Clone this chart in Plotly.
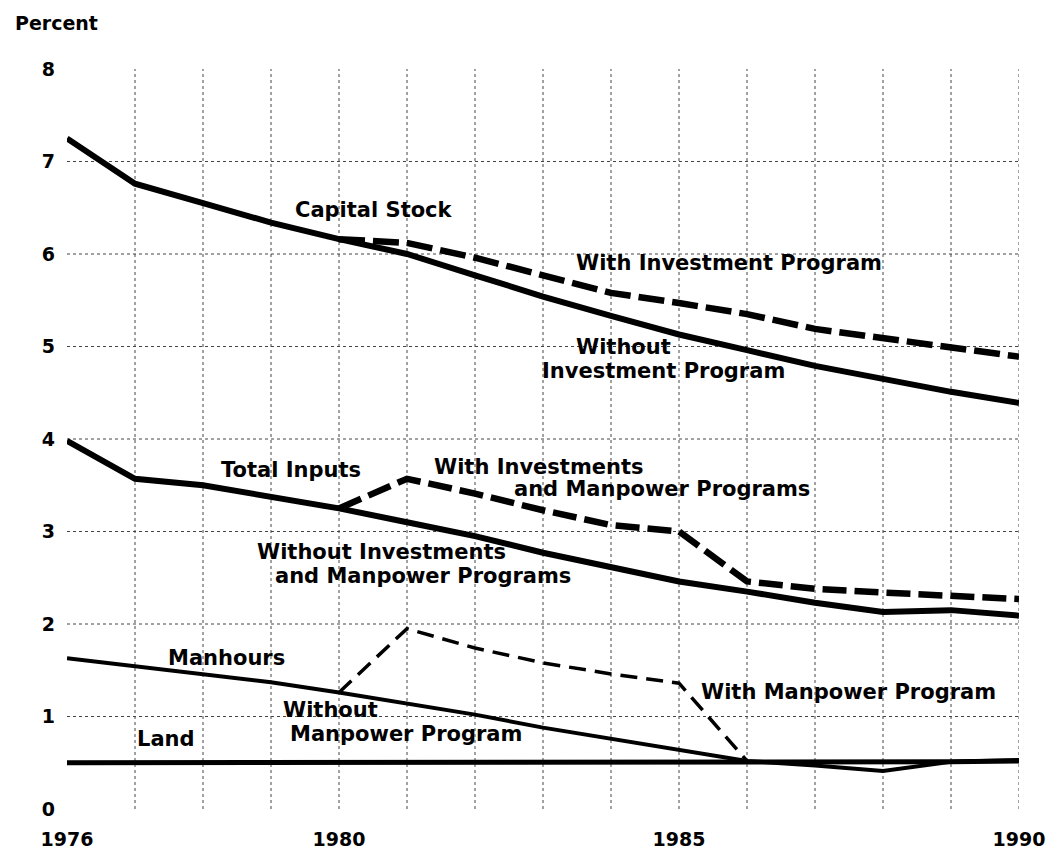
import plotly.graph_objects as go

# ---- data ----
years = list(range(1976, 1991))
prog_years = list(range(1980, 1991))
manprog_years = list(range(1980, 1987))

capital_without = [7.25, 6.76, 6.55, 6.34, 6.16, 6.00, 5.77, 5.54, 5.33, 5.13, 4.96, 4.79, 4.65, 4.51, 4.39]
capital_with = [6.16, 6.12, 5.96, 5.77, 5.58, 5.47, 5.35, 5.19, 5.09, 4.98, 4.89]

total_without = [3.98, 3.57, 3.50, 3.37, 3.25, 3.10, 2.95, 2.77, 2.61, 2.46, 2.35, 2.23, 2.13, 2.15, 2.09]
total_with = [3.25, 3.57, 3.41, 3.23, 3.07, 3.00, 2.46, 2.38, 2.34, 2.30, 2.27]

manhours_without = [1.63, 1.54, 1.46, 1.37, 1.26, 1.14, 1.02, 0.88, 0.76, 0.64, 0.52, 0.47, 0.41, 0.51, 0.53]
manhours_with = [1.26, 1.95, 1.74, 1.58, 1.46, 1.36, 0.52]

land = [0.50, 0.50, 0.50, 0.50, 0.50, 0.50, 0.50, 0.50, 0.50, 0.50, 0.50, 0.50, 0.50, 0.51, 0.52]

x_ticks = [1976, 1980, 1985, 1990]
y_ticks = [0, 1, 2, 3, 4, 5, 6, 7, 8]
v_grid = list(range(1977, 1991))
h_grid = [1, 2, 3, 4, 5, 6, 7]

FONT = "DejaVu Sans"
INK = "#000000"

fig = go.Figure()

# grid
for gx in v_grid:
    fig.add_shape(type="line", xref="x", yref="y", x0=gx, x1=gx, y0=0, y1=8,
                  line=dict(color="#444444", width=1, dash="dot"), layer="below")
for gy in h_grid:
    fig.add_shape(type="line", xref="x", yref="y", x0=1976, x1=1990, y0=gy, y1=gy,
                  line=dict(color="#444444", width=1, dash="dot"), layer="below")

def add(x, y, width, dash="solid"):
    fig.add_trace(go.Scatter(x=x, y=y, mode="lines", showlegend=False, hoverinfo="skip",
                             line=dict(color=INK, width=width, dash=dash)))

add(years, land, 5)
add(years, manhours_without, 4)
add(manprog_years, manhours_with, 3.5, "17px,9px")
add(years, total_without, 6)
add(prog_years, total_with, 6.5, "24px,8px")
add(years, capital_without, 6)
add(prog_years, capital_with, 6.5, "26px,8px")

labels = [
    ("Capital Stock", 1980.52, 6.48),
    ("With Investment Program", 1985.73, 5.90),
    ("Without", 1984.19, 4.99),
    ("Investment Program", 1984.77, 4.74),
    ("Total Inputs", 1979.29, 3.67),
    ("With Investments", 1982.94, 3.70),
    ("and Manpower Programs", 1984.75, 3.46),
    ("Without Investments", 1980.63, 2.78),
    ("and Manpower Programs", 1981.24, 2.52),
    ("Manhours", 1978.35, 1.63),
    ("Without", 1979.88, 1.07),
    ("Manpower Program", 1980.98, 0.81),
    ("Land", 1977.45, 0.76),
    ("With Manpower Program", 1987.49, 1.26),
]
for text, ax, ay in labels:
    fig.add_annotation(x=ax, y=ay, xref="x", yref="y", text=text, showarrow=False,
                       xanchor="center", yanchor="middle",
                       font=dict(family=FONT, size=21, color=INK, weight="bold"))

fig.add_annotation(x=-0.057, y=1.0795, xref="paper", yref="paper", text="Percent",
                   showarrow=False, xanchor="left", yanchor="top",
                   font=dict(family=FONT, size=19, color=INK, weight="bold"))

fig.update_xaxes(range=[1976, 1990], tickvals=x_ticks, ticktext=[str(v) for v in x_ticks],
                 showgrid=False, zeroline=False, showline=False, ticks="",
                 ticklabelstandoff=17,
                 tickfont=dict(family=FONT, size=19, color=INK, weight="bold"))
fig.update_yaxes(range=[0, 8], tickvals=y_ticks, showgrid=False, zeroline=False,
                 showline=False, ticks="", ticklabelstandoff=11,
                 tickfont=dict(family=FONT, size=19, color=INK, weight="bold"))

# page body adds an 8px margin; size/margins compensate so the plot area lands where the reference has it
fig.update_layout(width=1049, height=854, paper_bgcolor="white", plot_bgcolor="white",
                  margin=dict(l=59, r=29, t=61, b=38), showlegend=False)

fig.write_html("out.html")
